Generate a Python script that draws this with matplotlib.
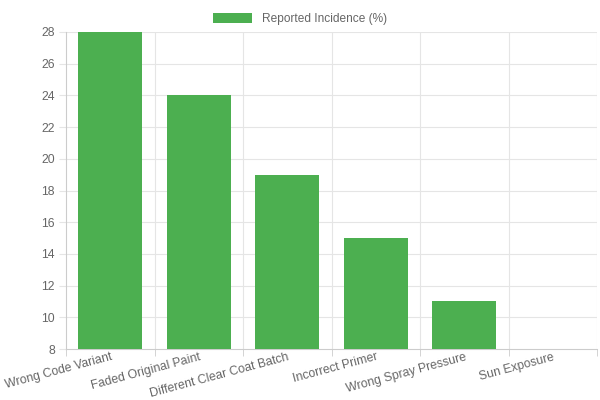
import matplotlib.pyplot as plt
import numpy as np

plt.rcParams['font.family'] = ['Liberation Sans', 'DejaVu Sans']

categories = ['Wrong Code Variant', 'Faded Original Paint', 'Different Clear Coat Batch',
              'Incorrect Primer', 'Wrong Spray Pressure', 'Sun Exposure']
incidence = [28, 24, 19, 15, 11, 8]
y_ticks = [8, 10, 12, 14, 16, 18, 20, 22, 24, 26, 28]

text_col = '#666666'
grid_col = '#e5e5e5'
bar_col = '#4caf50'

fig = plt.figure(figsize=(6, 4), dpi=100)
ax = fig.add_axes([0.11, 0.1275, 0.885, 0.7925])

x = np.arange(len(categories))
base = y_ticks[0]
heights = [v - base for v in incidence]
ax.bar(x, heights, bottom=base, width=0.72, color=bar_col, label='Reported Incidence (%)', zorder=3)

ax.set_xlim(-0.5, len(categories) - 0.5)
ax.set_ylim(y_ticks[0], y_ticks[-1])
ax.set_yticks(y_ticks)
ax.set_yticklabels([str(t) for t in y_ticks])

# grid lines between categories, like chart.js offset grid
bounds = np.arange(len(categories) + 1) - 0.5
for b in bounds[1:]:
    ax.axvline(b, color=grid_col, lw=0.8, zorder=1)
for t in y_ticks[1:]:
    ax.axhline(t, color=grid_col, lw=0.8, zorder=1)

ax.set_xticks(bounds, minor=True)
ax.set_xticks(x)
ax.set_xticklabels(categories, rotation=15, ha='right', rotation_mode='anchor')
ax.tick_params(axis='x', which='major', length=0, pad=1.5, labelsize=8.8, colors=text_col)
ax.tick_params(axis='x', which='minor', length=5, color='#cccccc')
ax.tick_params(axis='y', length=5, color=grid_col, labelsize=8.8, colors=text_col, pad=3)

for side in ['top', 'right']:
    ax.spines[side].set_visible(False)
ax.spines['left'].set_color('#cccccc')
ax.spines['bottom'].set_color('#cccccc')

fig.legend(loc='upper center', bbox_to_anchor=(0.5, 0.995), frameon=False,
           handlelength=3.3, handleheight=0.9, fontsize=8.6, labelcolor=text_col)

fig.savefig('out.png', dpi=100)
